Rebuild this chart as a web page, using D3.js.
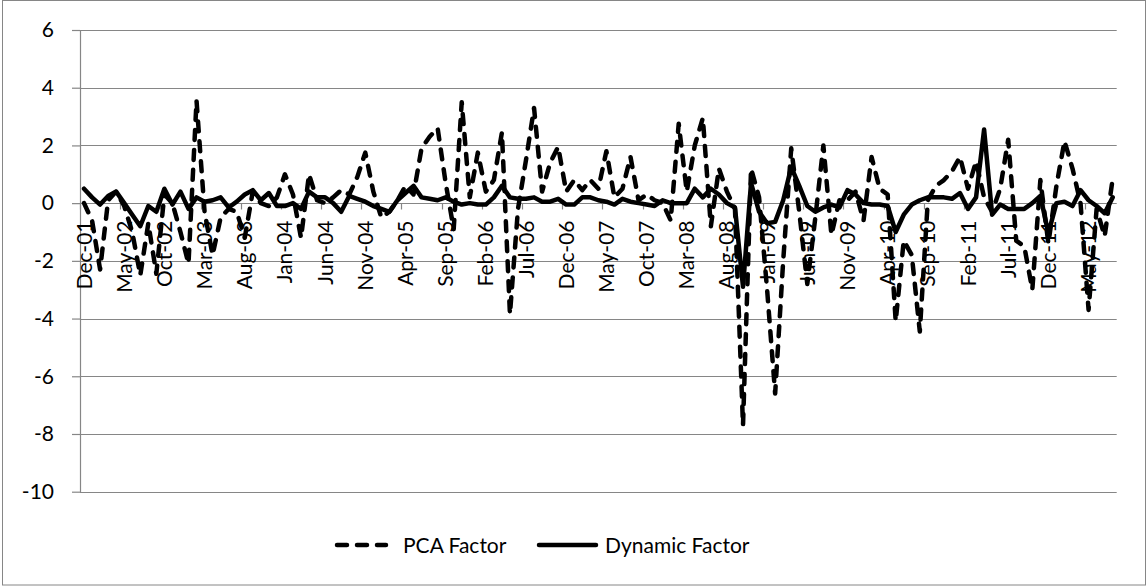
<!DOCTYPE html>
<html>
<head>
<meta charset="utf-8">
<script src="https://cdn.jsdelivr.net/npm/d3@7"></script>
<style>
body{margin:0;background:#fff;}
svg text{font-family:Lato,"Noto Sans",sans-serif;font-size:21px;fill:#000;}
</style>
</head>
<body>
<div class="chart"></div>
<script>
// monthly categories Dec-01 .. Aug-12
var categories = d3.utcMonth.range(new Date(Date.UTC(2001, 11, 1)), new Date(Date.UTC(2012, 8, 1)))
  .map(d3.utcFormat('%b-%y'));

var tickLabels = ['Dec-01','May-02','Oct-02','Mar-03','Aug-03','Jan-04','Jun-04','Nov-04','Apr-05',
  'Sep-05','Feb-06','Jul-06','Dec-06','May-07','Oct-07','Mar-08','Aug-08','Jan-09','Jun-09',
  'Nov-09','Apr-10','Sep-10','Feb-11','Jul-11','Dec-11','May-12'];

var yTicks = [-10, -8, -6, -4, -2, 0, 2, 4, 6];

var pcaFactor = [
  0.0, -0.6, -2.3, 0.1, 0.4, -0.1, -1.0, -2.5, -0.7, -2.45,
  0.3, 0.0, -1.0, -2.1, 3.55, -0.3, -1.8, -0.5, -0.2, -0.3,
  -1.2, 0.4, 0.0, -0.1, 0.2, 1.0, 0.3, -1.2, 1.0, 0.1,
  0.0, 0.2, 0.45, 0.3, 0.9, 1.75, 0.4, -0.5, -0.3, 0.1,
  0.6, 0.3, 1.9, 2.3, 2.6, 0.7, -0.9, 3.5, 0.2, 1.75,
  0.4, 0.8, 2.45, -3.85, -0.2, 1.5, 3.3, 0.4, 1.4, 1.95,
  0.4, 0.8, 0.45, 0.8, 0.5, 1.8, 0.2, 0.5, 1.6, 0.1,
  0.3, 0.1, 0.0, -0.6, 2.75, 0.4, 2.0, 2.95, -0.8, 1.2,
  0.4, -0.2, -7.7, 1.2, 0.2, -3.0, -6.6, -2.0, 1.9, -0.3,
  -2.8, -0.5, 2.0, -1.1, 0.1, 0.1, 0.4, -0.6, 1.6, 0.5,
  0.3, -4.1, -1.3, -1.8, -4.45, 0.1, 0.6, 0.8, 1.1, 1.6,
  0.5, 1.45, 0.2, -0.3, 0.5, 2.2, -1.3, -1.5, -3.0, 0.8,
  -1.4, 0.6, 2.15, 1.2, 0.0, -3.7, -0.2, -1.15, 0.85
];

var dynamicFactor = [
  0.5, 0.2, -0.05, 0.25, 0.4, 0.0, -0.4, -0.8, -0.1, -0.3,
  0.5, -0.05, 0.4, -0.2, 0.2, 0.05, 0.1, 0.2, -0.15, 0.05,
  0.3, 0.45, 0.1, 0.35, -0.1, -0.1, 0.0, -0.2, 0.4, 0.2,
  0.2, 0.0, -0.3, 0.25, 0.15, 0.05, -0.1, -0.2, -0.3, 0.1,
  0.35, 0.6, 0.2, 0.15, 0.1, 0.2, 0.05, -0.05, 0.0, -0.05,
  -0.05, 0.2, 0.6, 0.2, 0.15, 0.15, 0.2, 0.05, 0.05, 0.15,
  -0.05, -0.05, 0.2, 0.2, 0.1, 0.05, -0.05, 0.15, 0.05, 0.0,
  -0.05, -0.1, 0.1, 0.0, 0.0, 0.0, 0.5, 0.2, 0.5, 0.3,
  0.0, -0.15, -2.9, 0.7, -0.3, -0.7, -0.65, 0.1, 1.25, 0.6,
  -0.1, -0.3, -0.15, -0.05, -0.15, 0.45, 0.3, 0.0, -0.05, -0.05,
  -0.1, -1.0, -0.4, -0.05, 0.1, 0.2, 0.2, 0.2, 0.15, 0.35,
  -0.2, 0.2, 2.55, -0.4, -0.05, -0.2, -0.2, -0.2, 0.0, 0.25,
  -1.05, 0.0, 0.05, -0.1, 0.45, 0.1, -0.1, -0.35, 0.2
];

var ww = 1147, hh = 586
  , margin = {top: 30, right: 30.3, bottom: 94.3, left: 80}
  , width = ww - margin.left - margin.right
  , height = hh - margin.top - margin.bottom
  , gray = '#868686';

var svgm = d3.select('.chart').append('svg').attr('width', ww).attr('height', hh);

// chart border
svgm.append('rect').attr('x', 2.5).attr('y', 0.5).attr('width', 1143).attr('height', 584.5)
  .attr('fill', 'none').attr('stroke', gray);

var svg = svgm.append('g').attr('transform', `translate(${margin.left},${margin.top})`);

var x = d3.scaleBand().domain(categories).range([0, width])
  , y = d3.scaleLinear().domain([-10, 6]).range([height, 0]);

// horizontal grid lines
svg.append('g').selectAll('line').data(yTicks).enter().append('line')
  .attr('x1', 0).attr('x2', width)
  .attr('y1', d => Math.round(y(d)) + 0.5).attr('y2', d => Math.round(y(d)) + 0.5)
  .attr('stroke', gray).attr('stroke-width', 1.2);

// y axis
var yAxis = d3.axisLeft(y).tickValues(yTicks).tickSizeInner(8).tickSizeOuter(0).tickPadding(18)
  .tickFormat(d => String(d));
var gy = svg.append('g').call(yAxis);
gy.selectAll('path, line').attr('stroke', gray).attr('stroke-width', 1.2);
gy.selectAll('text').style('font-size', '21px').style('font-family', 'Lato');

// category axis crossing at zero
var zeroY = Math.round(y(0)) + 0.5;
var xAxis = d3.axisBottom(x).tickValues(tickLabels).tickSize(0);
var gx = svg.append('g').attr('transform', `translate(0,${zeroY})`).call(xAxis);
gx.select('.domain').remove();
gx.selectAll('text')
  .attr('transform', 'rotate(-90)')
  .attr('x', -17).attr('y', 0).attr('dy', '0.36em')
  .style('text-anchor', 'end').style('font-size', '21px').style('font-family', 'Lato');

// tick marks between categories, every 5 months
svg.append('g').selectAll('line').data(d3.range(0, categories.length, 5)).enter().append('line')
  .attr('x1', i => Math.round(x(categories[i])) + 0.5).attr('x2', i => Math.round(x(categories[i])) + 0.5)
  .attr('y1', zeroY).attr('y2', zeroY + 6)
  .attr('stroke', gray).attr('stroke-width', 1.2);

var line = d3.line()
  .x((d, i) => x(categories[i]) + x.bandwidth() / 2)
  .y(d => y(d));

svg.append('path').datum(pcaFactor)
  .attr('d', line).attr('fill', 'none').attr('stroke', '#000')
  .attr('stroke-width', 4.5).attr('stroke-dasharray', '10,10')
  .attr('stroke-linecap', 'round').attr('stroke-linejoin', 'round');

svg.append('path').datum(dynamicFactor)
  .attr('d', line).attr('fill', 'none').attr('stroke', '#000')
  .attr('stroke-width', 4.5)
  .attr('stroke-linecap', 'round').attr('stroke-linejoin', 'round');

// legend
var legend = svgm.append('g');
var ly = 545;
legend.append('line').attr('x1', 337).attr('x2', 386).attr('y1', ly).attr('y2', ly)
  .attr('stroke', '#000').attr('stroke-width', 4.5).attr('stroke-dasharray', '10,10').attr('stroke-linecap', 'round');
legend.append('text').attr('x', 403).attr('y', ly).attr('dy', '0.36em').text('PCA Factor');
legend.append('line').attr('x1', 539).attr('x2', 596).attr('y1', ly).attr('y2', ly)
  .attr('stroke', '#000').attr('stroke-width', 4.5).attr('stroke-linecap', 'round');
legend.append('text').attr('x', 605).attr('y', ly).attr('dy', '0.36em').text('Dynamic Factor');
</script>
</body>
</html>
